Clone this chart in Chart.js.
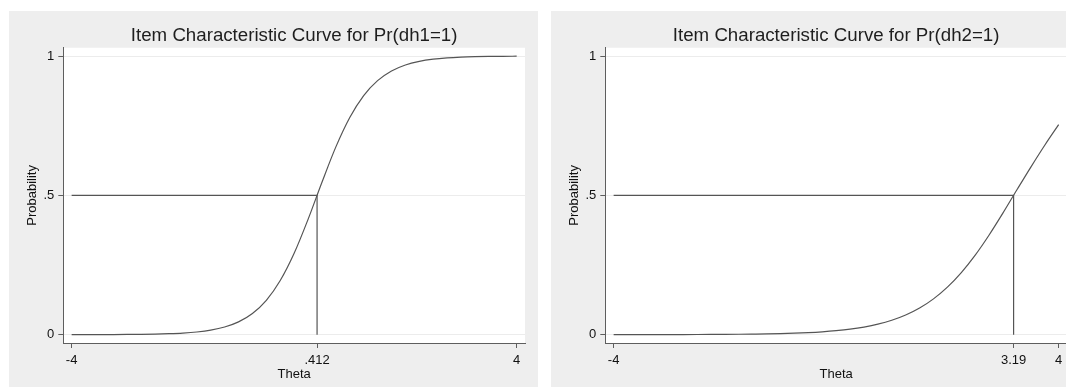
<!DOCTYPE html>
<html><head><meta charset="utf-8">
<script src="https://cdn.jsdelivr.net/npm/chart.js@4.4.1/dist/chart.umd.min.js"></script>
<style>
html,body{margin:0;padding:0;background:#ffffff;width:1066px;height:387px;overflow:hidden;position:relative;}
.panel{position:absolute;top:11px;width:529px;height:376px;background:#eeeeee;}
#p1{left:9px;} #p2{left:551px;}
canvas{display:block;}
</style></head><body>
<div class="panel" id="p1"><canvas id="c1" width="529" height="376"></canvas></div>
<div class="panel" id="p2"><canvas id="c2" width="529" height="376"></canvas></div>
<script>
// theta values at which the curves were read
const theta = [-4, -3.75, -3.5, -3.25, -3, -2.75, -2.5, -2.25, -2, -1.75, -1.5, -1.25, -1, -0.75, -0.5, -0.25,
  0, 0.25, 0.5, 0.75, 1, 1.25, 1.5, 1.75, 2, 2.25, 2.5, 2.75, 3, 3.25, 3.5, 3.75, 4];
// Pr(dh1=1)
const probDh1 = [0.0001, 0.0001, 0.0002, 0.0004, 0.0007, 0.0011, 0.0019, 0.0033, 0.0056, 0.0095, 0.0161, 0.0273,
  0.0458, 0.0760, 0.1233, 0.1942, 0.2920, 0.4138, 0.5472, 0.6741, 0.7797, 0.8584, 0.9120, 0.9467, 0.9682,
  0.9811, 0.9889, 0.9935, 0.9962, 0.9978, 0.9987, 0.9992, 0.9996];
// Pr(dh2=1)
const probDh2 = [0.0001, 0.0001, 0.0001, 0.0002, 0.0003, 0.0004, 0.0005, 0.0007, 0.0010, 0.0014, 0.0020, 0.0027,
  0.0038, 0.0053, 0.0073, 0.0102, 0.0142, 0.0196, 0.0272, 0.0375, 0.0515, 0.0704, 0.0955, 0.1284, 0.1704,
  0.2227, 0.2854, 0.3578, 0.4371, 0.5200, 0.6016, 0.6800, 0.7540];
// difficulty (theta where Pr = .5)
const diff1 = 0.412;
const diff2 = 3.19;
const xTicks1 = [-4, 0.412, 4];
const xTickLabels1 = ['-4', '.412', '4'];
const xTicks2 = [-4, 3.19, 4];
const xTickLabels2 = ['-4', '3.19', '4'];
const yTicks = [0, 0.5, 1];
const yTickLabels = ['0', '.5', '1'];
const titles = ['Item Characteristic Curve for Pr(dh1=1)', 'Item Characteristic Curve for Pr(dh2=1)'];
const xTitle = 'Theta';
const yTitle = 'Probability';

const FONT = '"Liberation Sans", Arial, Helvetica, sans-serif';
const LINE = '#555555';
const AXIS = '#5e5e5e';

const plotBg = {
  id: 'plotBg',
  beforeDraw(chart) {
    const {ctx, chartArea: a} = chart;
    ctx.save();
    ctx.fillStyle = '#ffffff';
    ctx.fillRect(a.left, a.top, a.right - a.left, a.bottom - a.top);
    ctx.restore();
  }
};

function makeChart(id, probs, diff, xt, xtl, title) {
  const curve = theta.map((t, i) => ({x: t, y: probs[i]}));
  const ref = [{x: theta[0], y: 0.5}, {x: diff, y: 0.5}, {x: diff, y: 0}];
  return new Chart(document.getElementById(id), {
    type: 'line',
    data: {
      datasets: [
        {data: ref, borderColor: LINE, borderWidth: 1.2, pointRadius: 0, tension: 0, fill: false},
        {data: curve, borderColor: LINE, borderWidth: 1.2, pointRadius: 0, cubicInterpolationMode: 'monotone', fill: false}
      ]
    },
    options: {
      responsive: false,
      animation: false,
      devicePixelRatio: 1,
      layout: {padding: {left: 0, right: 13, top: 0, bottom: 0}},
      plugins: {
        legend: {display: false},
        tooltip: {enabled: false},
        title: {
          display: true, text: title, color: '#1e1e1e', fullSize: false,
          font: {family: FONT, size: 18.7, weight: 'normal', lineHeight: 1.2},
          padding: {top: 13.8, bottom: 0.5}
        }
      },
      scales: {
        x: {
          type: 'linear', min: -4.15, max: 4.15,
          afterBuildTicks: (axis) => { axis.ticks = xt.map(v => ({value: v})); },
          afterFit: (s) => { s.height = 44; },
          ticks: {
            autoSkip: false, maxRotation: 0, padding: 5, color: '#111',
            font: {family: FONT, size: 13},
            callback: (v) => { const i = xt.indexOf(v); return i >= 0 ? xtl[i] : ''; }
          },
          grid: {drawOnChartArea: false, drawTicks: true, tickLength: 5, tickColor: AXIS, color: AXIS},
          border: {display: true, color: AXIS, width: 1},
          title: {display: true, text: xTitle, color: '#111', font: {family: FONT, size: 13}, padding: {top: 0, bottom: 5}}
        },
        y: {
          type: 'linear', min: -0.03, max: 1.03,
          afterBuildTicks: (axis) => { axis.ticks = yTicks.map(v => ({value: v})); },
          afterFit: (s) => { s.width = 54.3; },
          ticks: {
            autoSkip: false, padding: 4, color: '#111',
            font: {family: FONT, size: 13},
            callback: (v) => { const i = yTicks.indexOf(v); return i >= 0 ? yTickLabels[i] : ''; }
          },
          grid: {drawOnChartArea: true, drawTicks: true, tickLength: 5, tickColor: AXIS, color: '#ececec', lineWidth: 1},
          border: {display: true, color: AXIS, width: 1},
          title: {display: true, text: yTitle, color: '#111', font: {family: FONT, size: 13}, padding: {top: 16, bottom: 0}}
        }
      }
    },
    plugins: [plotBg]
  });
}

makeChart('c1', probDh1, diff1, xTicks1, xTickLabels1, titles[0]);
makeChart('c2', probDh2, diff2, xTicks2, xTickLabels2, titles[1]);
</script>
</body></html>
